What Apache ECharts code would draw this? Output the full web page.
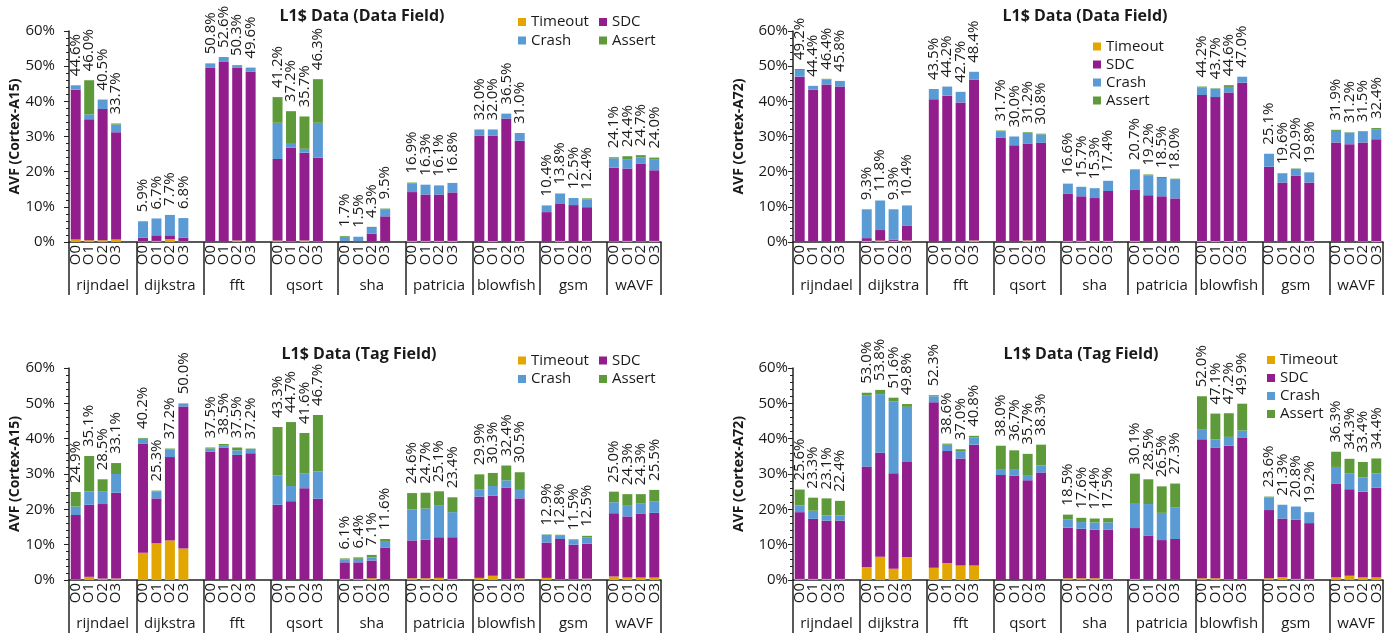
<!DOCTYPE html>
<html>
<head>
<meta charset="utf-8">
<script src="https://cdn.jsdelivr.net/npm/echarts@6/dist/echarts.min.js"></script>
<style>
  html, body { margin: 0; padding: 0; background: #ffffff; }
  #chart { width: 1397px; height: 640px; }
</style>
</head>
<body>
<div id="chart"></div>
<script>
// Benchmarks, compiler optimisation levels and outcome classes
const benchmarks = ['rijndael', 'dijkstra', 'fft', 'qsort', 'sha', 'patricia', 'blowfish', 'gsm', 'wAVF'];
const levels = ['O0', 'O1', 'O2', 'O3'];
const outcomes = ['Timeout', 'SDC', 'Crash', 'Assert'];
const yTickValues = [0, 10, 20, 30, 40, 50, 60];

// AVF (%) per benchmark x O0..O3 — L1$ data field, Cortex-A15
const dataA15Timeout = [0.7,0.5,0.5,0.7, 0.2,0.3,0.8,0.2, 0.1,0.1,0.4,0.1, 0.4,0.2,0.4,0.2, 0,0,0.1,0.1, 0.3,0.3,0.3,0.3, 0.1,0.3,0.1,0.3, 0.1,0.3,0.1,0.3, 0.2,0.3,0.2,0.3];
const dataA15SDC     = [42.6,34.4,37.3,30.5, 1.0,1.6,1.1,1.0, 49.4,51.1,49.2,48.3, 23.2,26.6,25.0,23.8, 0.3,0.2,2.3,7.2, 13.9,13.2,13.2,13.8, 30.1,29.9,35.0,28.5, 8.4,10.5,10.4,9.6, 20.9,20.6,22.0,20.1];
const dataA15Crash   = [1.2,1.4,2.6,2.2, 4.7,4.8,5.8,5.6, 1.3,1.4,0.7,1.2, 10.3,1.1,1.1,9.9, 1.2,1.3,1.6,1.9, 2.5,2.8,2.6,2.7, 1.8,1.8,1.4,2.2, 1.9,3.0,2.0,2.2, 2.7,2.5,1.9,3.0];
const dataA15Assert  = [0.1,9.7,0.1,0.3, 0,0,0,0, 0,0,0,0, 7.3,9.3,9.2,12.4, 0.2,0,0.3,0.3, 0.2,0,0,0, 0,0,0,0, 0,0,0,0.3, 0.3,1.0,0.6,0.6];
const dataA15Total   = [44.6,46.0,40.5,33.7, 5.9,6.7,7.7,6.8, 50.8,52.6,50.3,49.6, 41.2,37.2,35.7,46.3, 1.7,1.5,4.3,9.5, 16.9,16.3,16.1,16.8, 32.0,32.0,36.5,31.0, 10.4,13.8,12.5,12.4, 24.1,24.4,24.7,24.0];

// L1$ data field, Cortex-A72
const dataA72Timeout = [0.1,0.1,0.1,0.1, 0.3,0.4,0.3,0.4, 0.1,0.1,0.1,0.4, 0.1,0.1,0.4,0.1, 0.3,0.3,0.3,0.3, 0.3,0.1,0.1,0.1, 0.3,0.3,0.3,0.3, 0.1,0.1,0.1,0.3, 0.1,0.1,0.2,0.3];
const dataA72SDC     = [46.9,43.3,44.7,44.1, 0.8,3.0,0.4,4.3, 40.5,41.5,39.6,45.7, 29.6,27.4,27.6,28.1, 13.5,12.7,12.2,14.2, 14.5,13.2,12.9,12.3, 41.5,40.9,42.2,45.0, 21.3,16.8,18.7,16.6, 28.2,27.7,28.1,28.9];
const dataA72Crash   = [1.9,1.0,1.4,1.6, 8.2,8.4,8.6,5.7, 2.9,2.6,3.0,2.3, 1.8,2.5,3.0,2.4, 2.8,2.7,2.8,2.9, 5.8,5.6,5.2,5.3, 2.2,2.4,1.6,1.7, 3.7,2.6,2.0,2.9, 3.3,3.3,3.0,2.9];
const dataA72Assert  = [0.3,0,0.2,0, 0,0,0,0, 0,0,0,0, 0.2,0,0.2,0.2, 0,0,0,0, 0.1,0.3,0.3,0.3, 0.2,0.1,0.5,0, 0,0.1,0.1,0, 0.3,0.1,0.2,0.3];
const dataA72Total   = [49.2,44.4,46.4,45.8, 9.3,11.8,9.3,10.4, 43.5,44.2,42.7,48.4, 31.7,30.0,31.2,30.8, 16.6,15.7,15.3,17.4, 20.7,19.2,18.5,18.0, 44.2,43.7,44.6,47.0, 25.1,19.6,20.9,19.8, 31.9,31.2,31.5,32.4];

// L1$ tag field, Cortex-A15
const tagA15Timeout = [0.2,0.9,0.4,0.4, 7.7,10.4,11.2,8.9, 0,0,0,0, 0,0,0,0, 0.3,0.3,0.5,0.1, 0.5,0.5,0.6,0.3, 0.6,1.2,0.2,0.5, 0.6,0.2,0.2,0.4, 1.0,0.7,0.7,0.7];
const tagA15SDC     = [18.2,20.4,21.1,24.3, 30.9,12.7,23.6,40.2, 36.4,37.4,35.4,35.9, 21.3,22.3,26.0,23.0, 4.7,4.7,5.0,9.1, 10.7,10.9,11.5,11.8, 23.0,22.7,26.0,22.6, 10.0,11.4,9.8,9.9, 17.9,17.3,18.0,18.3];
const tagA15Crash   = [2.4,3.8,3.5,5.3, 1.4,2.0,2.2,0.8, 0.8,0.6,1.3,1.2, 8.3,4.3,4.1,7.7, 0.8,1.0,0.9,1.6, 8.8,8.8,9.1,7.1, 2.1,2.7,2.0,2.4, 2.2,1.1,1.3,1.8, 3.1,3.2,2.9,3.3];
const tagA15Assert  = [4.1,10.0,3.5,3.1, 0.2,0.2,0.2,0.1, 0.3,0.5,0.8,0.1, 13.7,18.1,11.5,16.0, 0.3,0.4,0.7,0.8, 4.6,4.5,3.9,4.2, 4.2,3.7,4.2,5.0, 0.1,0.1,0.2,0.4, 3.0,3.1,2.7,3.2];
const tagA15Total   = [24.9,35.1,28.5,33.1, 40.2,25.3,37.2,50.0, 37.5,38.5,37.5,37.2, 43.3,44.7,41.6,46.7, 6.1,6.4,7.1,11.6, 24.6,24.7,25.1,23.4, 29.9,30.3,32.4,30.5, 12.9,12.8,11.5,12.5, 25.0,24.3,24.3,25.5];

// L1$ tag field, Cortex-A72
const tagA72Timeout = [0.3,0.3,0.3,0.3, 3.7,6.6,3.2,6.5, 3.5,4.8,4.1,4.1, 0,0,0,0, 0.5,0.5,0.5,0.3, 0.3,0.1,0.1,0.1, 0.5,0.5,0.2,0.2, 0.5,0.8,0.3,0.3, 0.8,1.2,0.8,0.8];
const tagA72SDC     = [18.9,17.0,16.5,16.5, 28.4,29.4,27.0,26.9, 46.8,31.7,30.3,34.2, 29.7,29.5,28.2,30.4, 14.3,14.0,13.7,13.9, 14.4,12.5,11.2,11.5, 39.3,36.9,37.8,40.1, 19.3,16.6,16.8,15.8, 26.5,24.5,24.2,25.3];
const tagA72Crash   = [1.9,2.3,1.5,1.5, 20.2,16.6,20.3,15.6, 1.7,1.8,1.9,2.1, 1.7,1.9,1.5,2.0, 2.4,1.9,2.1,2.1, 7.1,8.9,7.7,9.0, 2.9,2.4,2.5,2.0, 3.6,3.9,3.7,3.1, 4.7,4.4,4.0,4.1];
const tagA72Assert  = [4.5,3.7,4.8,4.1, 0.7,1.2,1.1,0.8, 0.3,0.3,0.7,0.4, 6.6,5.3,6.0,5.9, 1.3,1.2,1.1,1.2, 8.3,7.0,7.5,6.7, 9.3,7.3,6.7,7.6, 0.2,0,0,0, 4.3,4.2,4.4,4.2];
const tagA72Total   = [25.6,23.3,23.1,22.4, 53.0,53.8,51.6,49.8, 52.3,38.6,37.0,40.8, 38.0,36.7,35.7,38.3, 18.5,17.6,17.4,17.5, 30.1,28.5,26.5,27.3, 52.0,47.1,47.2,49.9, 23.6,21.3,20.8,19.2, 36.3,34.3,33.4,34.4];

// ---- styling ----
const FONT = 'Open Sans';
const TEXT = '#1a1a1a';
const AXIS = '#222222';
const colors = { Timeout: '#E3A500', SDC: '#921D8C', Crash: '#5B9BD5', Assert: '#5E9A3A' };

// Panel layout (pixels) and the arrays each panel draws
const panels = [
  { title: 'L1$ Data (Data Field)', core: 'Cortex-A15', left: 69, width: 592, top: 31, height: 211,
    titleX: 362, titleY: 8, labelMargin: 14,
    series: [dataA15Timeout, dataA15SDC, dataA15Crash, dataA15Assert], totals: dataA15Total,
    legend: [{ left: 518, top: 13, data: ['Timeout', 'SDC'] }, { left: 518, top: 31.5, data: ['Crash', 'Assert'] }] },
  { title: 'L1$ Data (Data Field)', core: 'Cortex-A72', left: 793, width: 590, top: 31, height: 211,
    titleX: 1085, titleY: 8, labelMargin: 5,
    series: [dataA72Timeout, dataA72SDC, dataA72Crash, dataA72Assert], totals: dataA72Total,
    legend: [{ left: 1093, top: 37.5, data: outcomes, orient: 'vertical' }] },
  { title: 'L1$ Data (Tag Field)', core: 'Cortex-A15', left: 69, width: 592, top: 368, height: 212,
    titleX: 359, titleY: 346, labelMargin: 14,
    series: [tagA15Timeout, tagA15SDC, tagA15Crash, tagA15Assert], totals: tagA15Total,
    legend: [{ left: 518, top: 351.5, data: ['Timeout', 'SDC'] }, { left: 518, top: 370, data: ['Crash', 'Assert'] }] },
  { title: 'L1$ Data (Tag Field)', core: 'Cortex-A72', left: 793, width: 590, top: 368, height: 212,
    titleX: 1081, titleY: 346, labelMargin: 5,
    series: [tagA72Timeout, tagA72SDC, tagA72Crash, tagA72Assert], totals: tagA72Total,
    legend: [{ left: 1267, top: 351, data: outcomes, orient: 'vertical' }] }
];

// Categories: four optimisation levels per benchmark, with an empty slot between benchmarks
const categories = [];
benchmarks.forEach((b, g) => {
  levels.forEach(l => categories.push(b + '|' + l));
  if (g < benchmarks.length - 1) categories.push(b + '|');
});
const slotCount = categories.length;  // 44

function expand(arr) {
  const out = [];
  benchmarks.forEach((b, g) => {
    for (let k = 0; k < levels.length; k++) out.push(arr[g * levels.length + k]);
    if (g < benchmarks.length - 1) out.push(null);
  });
  return out;
}

// group boundaries and centres on the slot scale (each slot is 1 unit wide)
const groupEdges = [];
const groupCentres = [];
{
  let pos = 0;
  benchmarks.forEach((b, g) => {
    const w = g < benchmarks.length - 1 ? levels.length + 1 : levels.length;
    groupEdges.push(pos);
    groupCentres.push(pos + w / 2);
    pos += w;
  });
  groupEdges.push(pos);
}
function groupAt(v) {
  for (let g = 0; g < benchmarks.length; g++) if (v >= groupEdges[g] && v < groupEdges[g + 1]) return benchmarks[g];
  return '';
}

const option = {
  animation: false,
  backgroundColor: '#ffffff',
  textStyle: { fontFamily: FONT, color: TEXT },
  title: [], legend: [], grid: [], xAxis: [], yAxis: [], series: []
};

panels.forEach((p, i) => {
  option.title.push({
    text: p.title, left: p.titleX, top: p.titleY, textAlign: 'center', padding: 0,
    textStyle: { fontFamily: FONT, fontWeight: 'bold', fontSize: 16, color: TEXT }
  });
  p.legend.forEach(lg => {
    option.legend.push({
      data: lg.data, left: lg.left, top: lg.top, orient: lg.orient || 'horizontal',
      padding: 0, itemGap: lg.orient === 'vertical' ? 0 : 8, itemWidth: 8, itemHeight: 8, icon: 'rect',
      selectedMode: false,
      textStyle: { fontFamily: FONT, fontSize: 15, color: TEXT, width: 60, lineHeight: 18 }
    });
  });
  option.grid.push({ left: p.left, top: p.top, width: p.width, height: p.height, containLabel: false });

  // level labels (O0..O3)
  option.xAxis.push({
    gridIndex: i, type: 'category', data: categories, position: 'bottom',
    axisLine: { show: true, onZero: false, lineStyle: { color: AXIS, width: 1.5 } },
    axisTick: { show: false },
    axisLabel: {
      interval: 0, rotate: 90, margin: 3, fontFamily: FONT, fontSize: 15, color: TEXT,
      formatter: v => v.split('|')[1]
    }
  });
  // benchmark names and separators on a slot scale
  option.xAxis.push({
    gridIndex: i, type: 'value', position: 'bottom', min: 0, max: slotCount,
    axisLine: { show: false, onZero: false },
    splitLine: { show: false },
    axisTick: { show: true, inside: false, length: 53, customValues: groupEdges, lineStyle: { color: AXIS, width: 1.5 } },
    axisLabel: {
      customValues: groupCentres, margin: 36, fontFamily: FONT, fontSize: 15, color: TEXT,
      formatter: v => groupAt(v)
    }
  });
  option.yAxis.push({
    gridIndex: i, type: 'value', min: 0, max: 60, interval: 10,
    name: 'AVF (' + p.core + ')', nameLocation: 'middle', nameGap: 47,
    nameTextStyle: { fontFamily: FONT, fontWeight: 'bold', fontSize: 14, color: TEXT },
    axisLine: { show: true, lineStyle: { color: AXIS, width: 1.5 } },
    axisTick: { show: true, inside: false, length: 5, lineStyle: { color: AXIS, width: 1 } },
    minorTick: { show: true, splitNumber: 5, length: 3, lineStyle: { color: AXIS, width: 1 } },
    splitLine: { show: false },
    axisLabel: {
      margin: p.labelMargin, fontFamily: FONT, fontSize: 15, color: TEXT,
      formatter: v => (yTickValues.indexOf(v) >= 0 ? v + '%' : '')
    }
  });

  const totals = expand(p.totals);
  outcomes.forEach((name, k) => {
    const s = {
      type: 'bar', name: name, xAxisIndex: 2 * i, yAxisIndex: i, stack: 'panel' + i,
      data: expand(p.series[k]), barWidth: '74%',
      itemStyle: { color: colors[name] },
      emphasis: { disabled: true }
    };
    if (k === outcomes.length - 1) {
      s.label = {
        show: true, position: 'top', rotate: 90, align: 'left', verticalAlign: 'middle', distance: 9,
        fontFamily: FONT, fontSize: 15, color: TEXT,
        formatter: prm => totals[prm.dataIndex] == null ? '' : totals[prm.dataIndex].toFixed(1) + '%'
      };
    }
    option.series.push(s);
  });
});

const chart = echarts.init(document.getElementById('chart'), null, { renderer: 'canvas' });
chart.setOption(option);
</script>
</body>
</html>
